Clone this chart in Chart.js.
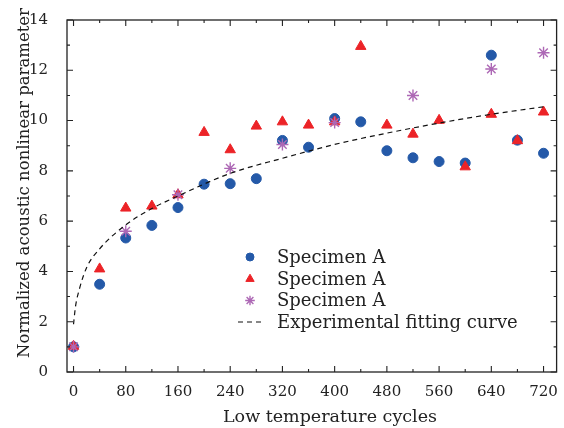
<!DOCTYPE html>
<html>
<head>
<meta charset="utf-8">
<script src="https://cdn.jsdelivr.net/npm/chart.js@4.4.1/dist/chart.umd.min.js"></script>
<style>
html, body { margin: 0; padding: 0; background: #fff; }
#wrap { width: 564px; height: 428px; }
</style>
</head>
<body>
<div id="wrap"><canvas id="chart" width="564" height="428"></canvas></div>
<script>
// values
const cycles = [0, 40, 80, 120, 160, 200, 240, 280, 320, 360, 400, 440, 480, 520, 560, 600, 640, 680, 720];
const specimenCircle = [1.0, 3.49, 5.33, 5.83, 6.54, 7.47, 7.49, 7.69, 9.21, 8.94, 10.08, 9.95, 8.8, 8.52, 8.37, 8.31, 12.6, 9.22, 8.7];
const specimenTriangle = [1.02, 4.1, 6.52, 6.6, 7.05, 9.53, 8.84, 9.78, 9.95, 9.82, 9.95, 12.95, 9.82, 9.46, 10.01, 8.16, 10.25, 9.2, 10.34];
const starCycles = [0, 80, 160, 240, 320, 400, 520, 640, 720];
const specimenStar = [1.0, 5.6, 7.05, 8.1, 9.05, 9.92, 11.0, 12.05, 12.7];
const fitCycles = [0, 3, 9, 20, 40, 80, 120, 160, 240, 320, 400, 480, 560, 640, 720];
const fitValues = [1.9, 2.6, 3.3, 4.15, 4.9, 5.85, 6.5, 7.0, 7.9, 8.5, 9.05, 9.5, 9.9, 10.25, 10.55];

const xTicks = [0, 80, 160, 240, 320, 400, 480, 560, 640, 720];
const xMinor = [40, 120, 200, 280, 360, 440, 520, 600, 680];
const yTicks = [0, 2, 4, 6, 8, 10, 12, 14];
const yMinor = [1, 3, 5, 7, 9, 11, 13];

const seriesLabels = ['Specimen A', 'Specimen A', 'Specimen A', 'Experimental fitting curve'];
const xTitle = 'Low temperature cycles';
const yTitle = 'Normalized acoustic nonlinear parameter';

const FONT = '"DejaVu Serif", serif';
const INK = '#222';

function pts(xs, ys) {
    return xs.map((x, i) => ({ x: x, y: ys[i] }));
}

// frame with inward ticks on all four sides, plus axis titles
const framePlugin = {
    id: 'frame',
    afterDatasetsDraw(chart) {
        const ctx = chart.ctx;
        const a = chart.chartArea;
        const sx = chart.scales.x, sy = chart.scales.y;
        ctx.save();
        ctx.strokeStyle = INK;
        ctx.lineWidth = 1.3;
        ctx.strokeRect(a.left, a.top, a.right - a.left, a.bottom - a.top);
        ctx.lineWidth = 1.1;
        ctx.beginPath();
        const tickX = (vals, len) => {
            vals.forEach(v => {
                const px = sx.getPixelForValue(v);
                ctx.moveTo(px, a.bottom); ctx.lineTo(px, a.bottom - len);
                ctx.moveTo(px, a.top); ctx.lineTo(px, a.top + len);
            });
        };
        const tickY = (vals, len) => {
            vals.forEach(v => {
                const py = sy.getPixelForValue(v);
                ctx.moveTo(a.left, py); ctx.lineTo(a.left + len, py);
                ctx.moveTo(a.right, py); ctx.lineTo(a.right - len, py);
            });
        };
        tickX(xTicks, 6); tickX(xMinor, 3);
        tickY(yTicks, 6); tickY(yMinor, 3);
        ctx.stroke();

        ctx.fillStyle = INK;
        ctx.textAlign = 'center';
        ctx.textBaseline = 'middle';
        ctx.font = '17.5px ' + FONT;
        ctx.fillText(xTitle, 330, 417);
        ctx.font = '16.5px ' + FONT;
        ctx.translate(25, 183);
        ctx.rotate(-Math.PI / 2);
        ctx.fillText(yTitle, 0, 0);
        ctx.restore();
    }
};

// legend drawn inside the plot area
const innerLegend = {
    id: 'innerLegend',
    afterDraw(chart) {
        const ctx = chart.ctx;
        const x0 = 250, tx = 277, rows = [257, 279, 300.5, 322];
        ctx.save();
        ctx.font = '18px ' + FONT;
        ctx.textBaseline = 'middle';
        chart.data.datasets.forEach((ds, i) => {
            const y = rows[i];
            ctx.strokeStyle = ds.borderColor;
            ctx.fillStyle = ds.backgroundColor || ds.borderColor;
            ctx.lineWidth = ds.borderWidth;
            if (ds.showLine) {
                ctx.setLineDash(ds.borderDash);
                ctx.beginPath();
                ctx.moveTo(238, y); ctx.lineTo(264, y);
                ctx.stroke();
                ctx.setLineDash([]);
            } else {
                Chart.helpers.drawPoint(ctx, {
                    pointStyle: ds.pointStyle,
                    radius: ds.pointRadius * 0.8,
                    borderWidth: ds.borderWidth,
                    rotation: 0
                }, x0, y);
            }
            ctx.fillStyle = INK;
            ctx.fillText(ds.label, tx, y + 1);
        });
        ctx.restore();
    }
};

const ctx = document.getElementById('chart').getContext('2d');
const chart = new Chart(ctx, {
    type: 'scatter',
    data: {
        datasets: [{
            label: seriesLabels[0],
            data: pts(cycles, specimenCircle),
            pointStyle: 'circle',
            pointRadius: 5,
            backgroundColor: '#2459a8',
            borderColor: '#2459a8',
            borderWidth: 1,
            order: 4
        }, {
            label: seriesLabels[1],
            data: pts(cycles, specimenTriangle),
            pointStyle: 'triangle',
            pointRadius: 6,
            backgroundColor: '#ec2327',
            borderColor: '#ec2327',
            borderWidth: 1,
            order: 3
        }, {
            label: seriesLabels[2],
            data: pts(starCycles, specimenStar),
            pointStyle: 'star',
            pointRadius: 6,
            backgroundColor: '#ad68b5',
            borderColor: '#ad68b5',
            borderWidth: 1.4,
            order: 2
        }, {
            type: 'line',
            label: seriesLabels[3],
            data: pts(fitCycles, fitValues),
            showLine: true,
            borderColor: '#111',
            borderWidth: 1.2,
            borderDash: [5, 4],
            pointRadius: 0,
            cubicInterpolationMode: 'monotone',
            fill: false,
            order: 1
        }]
    },
    options: {
        responsive: false,
        animation: false,
        layout: { padding: { top: 15, right: 5, left: 0, bottom: 0 } },
        plugins: {
            legend: { display: false },
            tooltip: { enabled: false }
        },
        scales: {
            x: {
                type: 'linear',
                min: -10,
                max: 740,
                grid: { display: false },
                border: { display: false },
                afterBuildTicks: s => { s.ticks = xTicks.map(v => ({ value: v })); },
                afterFit: s => { s.height = 56; },
                ticks: {
                    color: INK,
                    font: { family: FONT, size: 15 },
                    padding: 3,
                    maxRotation: 0,
                    autoSkip: false
                }
            },
            y: {
                min: 0,
                max: 14,
                grid: { display: false },
                border: { display: false },
                afterBuildTicks: s => { s.ticks = yTicks.map(v => ({ value: v })); },
                afterFit: s => { s.width = 67; },
                ticks: {
                    color: INK,
                    font: { family: FONT, size: 15 },
                    padding: 11
                }
            }
        }
    },
    plugins: [framePlugin, innerLegend]
});
</script>
</body>
</html>
